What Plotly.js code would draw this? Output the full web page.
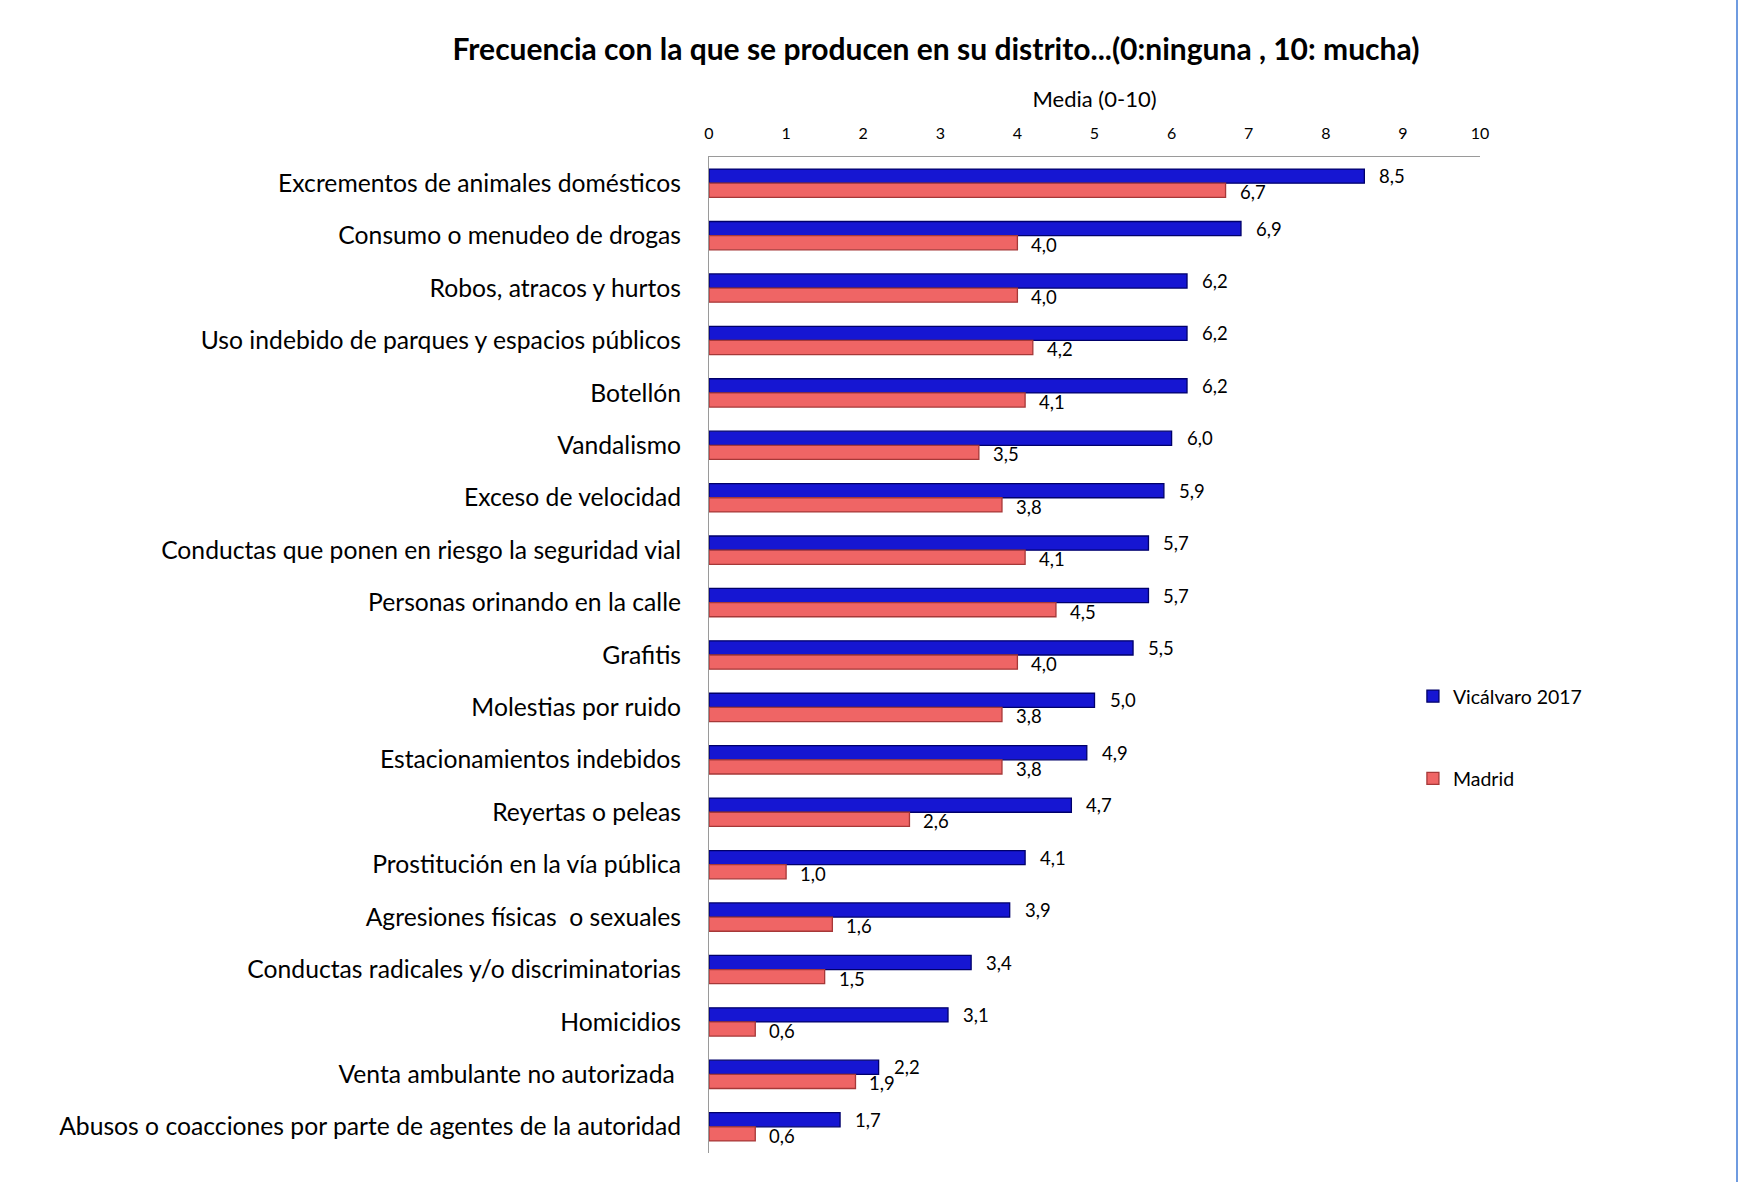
<!DOCTYPE html>
<html>
<head>
<meta charset="utf-8">
<script src="https://cdn.plot.ly/plotly-3.0.1.min.js"></script>
<style>html,body{margin:0;padding:0;background:#fff;}#chart{width:1742px;height:1182px;}</style>
</head>
<body>
<div id="chart"></div>
<script>
const categories = [
  "Excrementos de animales domésticos",
  "Consumo o menudeo de drogas",
  "Robos, atracos y hurtos",
  "Uso indebido de parques y espacios públicos",
  "Botellón",
  "Vandalismo",
  "Exceso de velocidad",
  "Conductas que ponen en riesgo la seguridad vial",
  "Personas orinando en la calle",
  "Grafitis",
  "Molestias por ruido",
  "Estacionamientos indebidos",
  "Reyertas o peleas",
  "Prostitución en la vía pública",
  "Agresiones físicas  o sexuales",
  "Conductas radicales y/o discriminatorias",
  "Homicidios",
  "Venta ambulante no autorizada ",
  "Abusos o coacciones por parte de agentes de la autoridad"
];
const vicalvaro = [8.5, 6.9, 6.2, 6.2, 6.2, 6.0, 5.9, 5.7, 5.7, 5.5, 5.0, 4.9, 4.7, 4.1, 3.9, 3.4, 3.1, 2.2, 1.7];
const madrid    = [6.7, 4.0, 4.0, 4.2, 4.1, 3.5, 3.8, 4.1, 4.5, 4.0, 3.8, 3.8, 2.6, 1.0, 1.6, 1.5, 0.6, 1.9, 0.6];
const seriesNames = ["Vicálvaro 2017", "Madrid"];
const xTicks = [0,1,2,3,4,5,6,7,8,9,10];

const FONT = "Lato, 'Open Sans', sans-serif";
const fmt = v => v.toFixed(1).replace('.', ',');

const traces = [
  {
    type: 'bar', orientation: 'h', name: seriesNames[0],
    y: categories, x: vicalvaro, legendgroup: 'a',
    marker: {color: '#1616D2', line: {color: '#00006A', width: 1.3}},
    hoverinfo: 'x+y'
  },
  {
    type: 'bar', orientation: 'h', name: seriesNames[1],
    y: categories, x: madrid, legendgroup: 'b',
    marker: {color: '#EF6565', line: {color: '#A63838', width: 1.3}},
    hoverinfo: 'x+y'
  }
];

const annotations = [];
categories.forEach((c, i) => {
  annotations.push({
    x: vicalvaro[i], y: c, xref: 'x', yref: 'y', text: fmt(vicalvaro[i]),
    showarrow: false, xanchor: 'left', yanchor: 'middle', xshift: 13, yshift: 7,
    font: {family: FONT, size: 18.5, color: '#000'}
  });
  annotations.push({
    x: madrid[i], y: c, xref: 'x', yref: 'y', text: fmt(madrid[i]),
    showarrow: false, xanchor: 'left', yanchor: 'middle', xshift: 12, yshift: -9,
    font: {family: FONT, size: 18.5, color: '#000'}
  });
});

const layout = {
  width: 1742, height: 1182,
  paper_bgcolor: '#fff', plot_bgcolor: '#fff',
  margin: {l: 709, r: 262, t: 157, b: 29, pad: 0},
  font: {family: FONT, color: '#000'},
  title: {
    text: '<b>Frecuencia con la que se producen en su distrito...(0:ninguna , 10: mucha)</b>',
    font: {family: FONT, size: 30, color: '#000'},
    x: 936/1742, xanchor: 'center', xref: 'container',
    y: 1 - 49/1182, yanchor: 'middle', yref: 'container'
  },
  barmode: 'group', bargap: 0.46, bargroupgap: 0,
  xaxis: {
    side: 'top', range: [0, 10], tickvals: xTicks, ticktext: xTicks.map(String),
    showgrid: false, zeroline: false, showline: true, linecolor: '#9a9a9a', linewidth: 1,
    ticks: '', ticklabelstandoff: 11,
    tickfont: {family: FONT, size: 16, color: '#000'},
    title: {text: 'Media (0-10)', font: {family: FONT, size: 22, color: '#000'}, standoff: 8},
    fixedrange: true
  },
  yaxis: {
    type: 'category', autorange: 'reversed',
    showgrid: false, zeroline: false, showline: true, linecolor: '#9a9a9a', linewidth: 1,
    ticks: '', ticklabelstandoff: 22,
    tickfont: {family: FONT, size: 24.7, color: '#000'},
    fixedrange: true
  },
  legend: {
    x: 0.913, xanchor: 'left', y: 0.478, yanchor: 'top',
    traceorder: 'grouped', tracegroupgap: 54,
    font: {family: FONT, size: 19.5, color: '#000'},
    bgcolor: 'rgba(0,0,0,0)', itemwidth: 30
  },
  annotations: annotations,
  shapes: [{
    type: 'line', xref: 'paper', yref: 'paper',
    x0: (1737-709)/771, x1: (1737-709)/771, y0: -29/996, y1: 1 + 157/996,
    line: {color: '#6F9BE0', width: 2}
  }]
};

Plotly.newPlot('chart', traces, layout, {displayModeBar: false, staticPlot: true});
</script>
</body>
</html>
